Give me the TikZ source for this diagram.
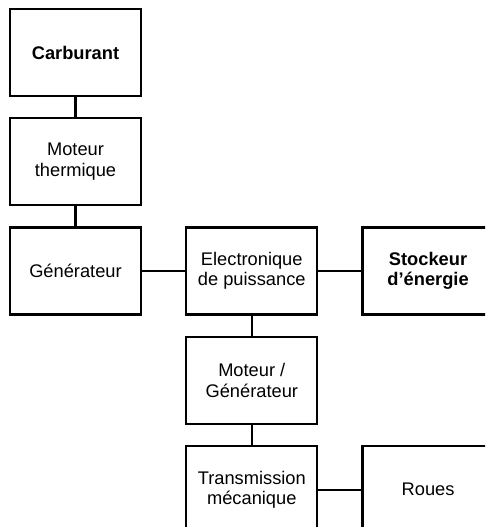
\documentclass[tikz,border=0pt]{standalone}
\usepackage{fontspec}
\setsansfont{Liberation Sans}
\usetikzlibrary{positioning}
\tikzset{
    %Define style for boxes
    bloc/.style={
           rectangle,
           draw=black, line width=1.3pt,
           minimum width=2.62cm,
           minimum height=1.74cm,
           align=center},
    % Define line style
    lien/.style={
           -,
           line width=1.3pt}
}
\begin{document}
\begin{tikzpicture}[node distance=0.4cm and 0.86cm, font=\sffamily\fontsize{10.4}{11.6}\selectfont]
 \useasboundingbox (0,0) rectangle (9.7,-10.54);
 \clip (0,0) rectangle (9.7,-10.54);

 %Chaine thermique
 \node[bloc] (carb) at (1.51,-1.05) {\textbf{Carburant}};
 \node[bloc,below=of carb] (moth) {Moteur\\thermique};
 \node[bloc,below=of moth] (gen) {Générateur};

 %Chaine electrique
 \node[bloc,right=of gen] (elec) {Electronique\\de puissance};
 \node[bloc,right=of elec] (stock) {\textbf{Stockeur}\\\textbf{d’énergie}};
 \node[bloc,below=of elec] (mg) {Moteur /\\Générateur};

 %Chaine mecanique
 \node[bloc,below=of mg] (trans) {Transmission\\mécanique};
 \node[bloc,right=of trans] (roues) {Roues};

 \draw[lien] (carb) -- (moth);
 \draw[lien] (moth) -- (gen);
 \draw[lien] (gen) -- (elec);
 \draw[lien] (elec) -- (stock);
 \draw[lien] (elec) -- (mg);
 \draw[lien] (mg) -- (trans);
 \draw[lien] (trans) -- (roues);
\end{tikzpicture}
\end{document}
